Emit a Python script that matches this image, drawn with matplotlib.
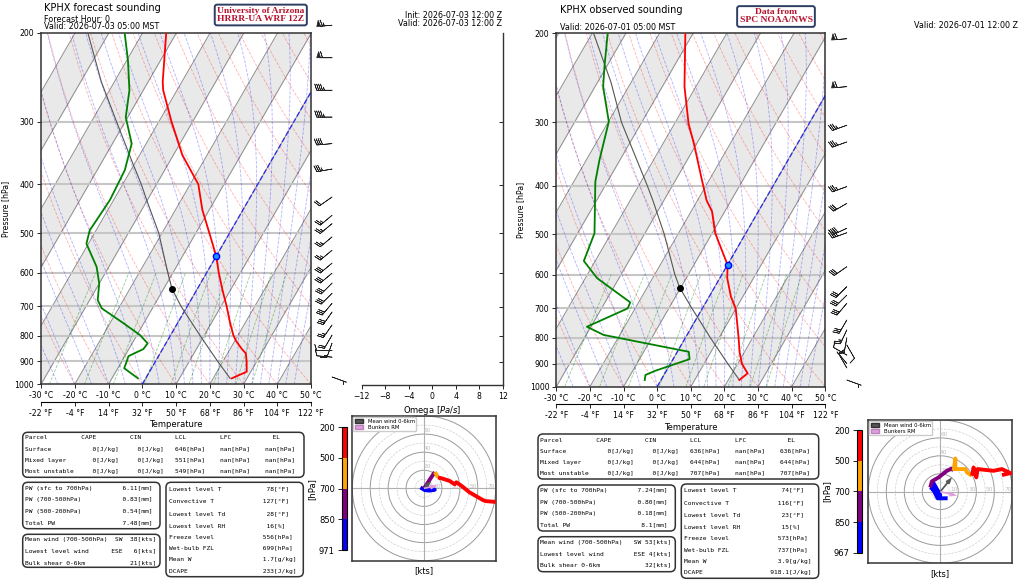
import numpy as np
import matplotlib
matplotlib.use("Agg")
import matplotlib.pyplot as plt
import matplotlib.transforms as mtransforms
from matplotlib.patches import FancyBboxPatch, Circle, Patch
from matplotlib.colors import ListedColormap, BoundaryNorm
from matplotlib.cm import ScalarMappable
from matplotlib.ticker import FuncFormatter, NullLocator

# ------------------------------------------------------------------ data
# forecast sounding (left)
fc_p = [973, 944, 900, 868, 850, 820, 800, 756, 700, 650, 600, 556, 500, 450, 400, 350, 300, 260, 250, 200]
fc_t = [25.5, 28.8, 27.0, 25.4, 23.4, 20.4, 18.7, 15.6, 11.7, 7.7, 3.6, 0.0, -6.0, -12.0, -17.6, -27.3, -36.3, -44.1, -45.7, -53.0]
fc_td_p = [973, 929, 902, 879, 851, 829, 798, 756, 706, 680, 630, 584, 525, 494, 430, 375, 332, 294, 260, 227, 200]
fc_td = [-2.3, -8.1, -8.5, -8.9, -5.7, -5.4, -9.1, -16.0, -25.0, -27.6, -30.0, -33.6, -40.6, -41.9, -41.1, -41.8, -44.3, -50.6, -54.1, -59.6, -65.3]
fc_parcel_p = [973, 900, 800, 700, 647, 600, 500, 430, 400, 364, 300, 250, 200]
fc_parcel_t = [25.0, 18.4, 8.8, -1.8, -7.4, -11.5, -21.0, -30.2, -34.5, -40.5, -52.6, -63.9, -76.2]
fc_lcl_p, fc_lcl_t = 647, -7.4
fc_frz_p, fc_frz_t = 556, 0.0
fc_barb_p = [193, 224, 260, 294, 332, 373, 424, 461, 479, 509, 541, 574, 601, 629, 659, 690, 718, 762, 798, 828, 857, 883, 967]
fc_barb_dir = [265, 270, 270, 270, 265, 260, 235, 230, 230, 230, 230, 230, 230, 225, 225, 220, 215, 215, 210, 200, 270, 275, 110]
fc_barb_spd = [65, 60, 45, 45, 40, 35, 20, 25, 25, 25, 25, 30, 30, 30, 30, 30, 30, 25, 20, 15, 10, 10, 6]

# observed sounding (right)
ob_p = [970, 941, 900, 853, 800, 761, 700, 664, 610, 574, 497, 450, 428, 390, 330, 302, 255, 200]
ob_t = [23.3, 24.6, 21.2, 18.5, 15.8, 13.6, 9.9, 6.5, 2.2, 0.0, -9.1, -13.8, -17.3, -22.2, -30.9, -35.8, -43.4, -52.3]
ob_td_p = [970, 948, 930, 882, 853, 790, 761, 700, 681, 610, 564, 497, 393, 356, 299, 255, 233, 200]
ob_td = [-4.85, -5.5, -3.3, 4.9, 3.4, -24.8, -31.2, -22.2, -22.5, -36.5, -43.4, -45.0, -53.6, -56.1, -59.9, -67.6, -70.6, -75.4]
ob_parcel_p = [970, 900, 800, 700, 637, 600, 500, 430, 400, 300, 250, 200]
ob_parcel_t = [23.3, 17.0, 7.4, -3.1, -10.3, -14.0, -24.0, -33.0, -37.5, -56.0, -66.0, -79.6]
ob_lcl_p, ob_lcl_t = 637, -10.3
ob_frz_p, ob_frz_t = 574, 0.0
ob_barb_p = [205, 255, 304, 328, 402, 434, 486, 496, 579, 634, 659, 684, 738, 772, 800, 827, 866, 900, 918, 970]
ob_barb_dir = [265, 265, 250, 250, 250, 240, 245, 250, 235, 225, 225, 220, 210, 205, 190, 150, 300, 320, 330, 110]
ob_barb_spd = [60, 60, 35, 35, 35, 30, 40, 40, 30, 30, 30, 30, 30, 25, 15, 10, 10, 5, 8, 4]

# hodographs (kts)
fc_hodo_blue_u = [-4, 1, 6, 12, 8, 0]
fc_hodo_blue_v = [1, -2, -2.5, -1.5, -0.5, 0]
fc_hodo_purple_u = [0, 6, 12]
fc_hodo_purple_v = [0, 9, 18]
fc_hodo_orange_u = [12, 14, 15.6]
fc_hodo_orange_v = [18, 15, 12]
fc_hodo_red_u = [15.6, 19.3, 28.6, 34.2, 36.1, 41.6, 50.9, 65.8, 68.8, 80]
fc_hodo_red_v = [12, 11.2, 8.2, 4.5, 6.7, 3.0, -4.5, -13.0, -14.1, -15]
fc_mean_wind = (8.2, 8.2)
fc_bunkers = (15, 3)
fc_hodo_levels = [971, 850, 700, 500, 200]

ob_hodo_blue_u = [8.1, -3, -10, -7.4, 0, -11.1]
ob_hodo_blue_v = [-7.4, -7.4, 6.7, 9.3, -3.7, 4.8]
ob_hodo_purple_u = [-11.1, -9.3, -1.9, 7.4, 13, 14.8]
ob_hodo_purple_v = [4.8, 11.5, 15.9, 23.3, 25.9, 23.3]
ob_hodo_orange_u = [14.8, 16.7, 16.7, 27.8, 29.6, 35.2]
ob_hodo_orange_v = [23.3, 37, 25.2, 25.2, 21.5, 17.8]
ob_hodo_red_u = [35.2, 37, 40, 41.5, 59.3, 68.5, 77.8, 68.5]
ob_hodo_red_v = [17.8, 27, 15.9, 25.2, 23.3, 25.2, 20.7, 18.5]
ob_mean_wind = (13, 16)
ob_bunkers = (18.5, -4.4)
ob_hodo_levels = [967, 850, 700, 500, 200]

# tables
parcel_names = ['Surface', 'Mixed layer', 'Most unstable']
fc_cape = [0, 0, 0]
fc_cin = [0, 0, 0]
fc_lcl = [646, 551, 549]
fc_lfc = ['nan', 'nan', 'nan']
fc_el = ['nan', 'nan', 'nan']
ob_cape = [0, 0, 0]
ob_cin = [0, 0, 0]
ob_lcl = [636, 644, 707]
ob_lfc = ['nan', 'nan', 'nan']
ob_el = [636, 644, 707]

pw_labels = ['PW (sfc to 700hPa)', 'PW (700-500hPa)', 'PW (500-200hPa)', 'Total PW']
fc_pw = ['6.11', '0.83', '0.54', '7.48']
ob_pw = ['7.24', '0.80', '0.18', '8.1']

wind_labels = ['Mean wind (700-500hPa)', 'Lowest level wind', 'Bulk shear 0-6km']
fc_wind_dir = ['SW', 'ESE', '']
fc_wind_spd = [38, 6, 21]
ob_wind_dir = ['SW', 'ESE', '']
ob_wind_spd = [53, 4, 32]

stat_labels = ['Lowest level T', 'Convective T', 'Lowest level Td', 'Lowest level RH',
               'Freeze level', 'Wet-bulb FZL', 'Mean W', 'DCAPE']
stat_units = ['°F', '°F', '°F', '%', 'hPa', 'hPa', 'g/kg', 'J/kg']
fc_stats = ['78', '127', '28', '16', '556', '699', '1.7', '233']
ob_stats = ['74', '116', '23', '15', '573', '737', '3.9', '918.1']

# ------------------------------------------------------------------ setup
W, H = 1024, 580
fig = plt.figure(figsize=(W / 100, H / 100), dpi=100)
plt.rcParams['font.family'] = ['DejaVu Sans']

Rd, Cp, Lv, EPS = 287.04, 1005.7, 2.501e6, 0.622
HODO_COLORS = ['#0000ff', '#800080', '#ffa500', '#ff0000']


def box(x0, y0, x1, y1):
    return [x0 / W, 1 - y1 / H, (x1 - x0) / W, (y1 - y0) / H]


def ftext(x, y, s, **kw):
    kw.setdefault('va', 'center')
    return fig.text(x / W, 1 - y / H, s, **kw)


def rbox(x0, y0, x1, y1, ec='#333333', lw=1.1):
    p = FancyBboxPatch((x0 / W, 1 - y1 / H), (x1 - x0) / W, (y1 - y0) / H,
                       boxstyle='round,pad=0,rounding_size=0.005', mutation_aspect=W / H,
                       transform=fig.transFigure, fc='white', ec=ec, lw=lw, zorder=1)
    fig.add_artist(p)


def sat_vp(tc):
    return 6.112 * np.exp(17.67 * tc / (tc + 243.5))


def moist_adiabats(t0c, plev):
    T = np.asarray(t0c, float) + 273.15
    out = [T.copy()]

    def f(Tk, p):
        e = sat_vp(Tk - 273.15)
        rs = EPS * e / (p - e)
        return (Rd * Tk + Lv * rs) / (Cp + Lv * Lv * rs * EPS / (Rd * Tk * Tk)) / p

    for p0, p1 in zip(plev[:-1], plev[1:]):
        dp = p1 - p0
        k1 = f(T, p0)
        k2 = f(T + k1 * dp, p1)
        T = T + 0.5 * (k1 + k2) * dp
        out.append(T.copy())
    return np.array(out) - 273.15


def wind_uv(dirs, spds):
    d = np.radians(np.asarray(dirs, float))
    s = np.asarray(spds, float)
    return -s * np.sin(d), -s * np.cos(d)


def skew_panel(rect, t_p, t, td_p, td, par_p, par_t, lcl, frz, b_p, b_dir, b_spd, barb_x, sec_loc):
    ax = fig.add_axes(box(*rect))
    ax.set_yscale('log')
    ax.set_ylim(1000, 200)
    ax.set_xlim(-30, 50)
    ax.set_autoscale_on(False)
    wpx, hpx = rect[2] - rect[0], rect[3] - rect[1]
    k = np.tan(np.radians(30)) * hpx / wpx
    st = ax.transScale + ax.transLimits + mtransforms.Affine2D().skew(np.arctan(k), 0) + ax.transAxes

    # shaded isotherm bands + isotherms
    for tb in range(-120, 60, 20):
        ax.fill_betweenx([1000, 100], [tb, tb], [tb + 10, tb + 10], transform=st,
                         color='#e9e9e9', lw=0, zorder=0)
    for ti in range(-120, 60, 10):
        ax.plot([ti, ti], [1000, 100], transform=st, color='#8c8c8c', lw=0.7, zorder=1)
    for pg in range(300, 1000, 100):
        ax.axhline(pg, color='#c6c6c6', lw=1.5, zorder=1)

    plev = np.linspace(1000, 150, 120)
    theta = np.arange(-40, 210, 10) + 273.15
    dry = theta[None, :] * (plev[:, None] / 1000.0) ** 0.2857 - 273.15
    ax.plot(dry, plev, transform=st, color='r', ls='--', lw=0.6, alpha=0.3, zorder=2)
    t0 = np.concatenate((np.arange(-50., 10.1, 5.), np.arange(12.5, 45.1, 2.5)))
    moist = moist_adiabats(t0, plev)
    ax.plot(moist, plev, transform=st, color='b', ls='--', lw=0.6, alpha=0.3, zorder=2)
    wmix = np.array([0.0004, 0.001, 0.002, 0.004, 0.007, 0.01, 0.016, 0.024, 0.032])
    pm = np.linspace(1000, 600, 20)
    e = wmix[None, :] * pm[:, None] / (EPS + wmix[None, :])
    le = np.log(e / 6.112)
    tdm = 243.5 * le / (17.67 - le)
    ax.plot(tdm, pm, transform=st, color='g', ls='--', lw=0.6, alpha=0.4, zorder=2)
    ax.plot([0, 0], [1000, 100], transform=st, color='b', ls='--', lw=1.0, alpha=0.7, zorder=3)

    # data
    ax.plot(par_t, par_p, transform=st, color='#555555', lw=0.8, zorder=4)
    ax.plot(t, t_p, transform=st, color='#ff0000', lw=1.3, zorder=5)
    ax.plot(td, td_p, transform=st, color='#008000', lw=1.3, zorder=5)
    ax.plot([lcl[1]], [lcl[0]], 'o', transform=st, color='k', ms=4, zorder=6)
    ax.plot([frz[1]], [frz[0]], 'o', transform=st, mfc='#1e90ff', mec='#0000ff', mew=1, ms=4.5, zorder=6)

    # barbs
    u, v = wind_uv(b_dir, b_spd)
    btr = mtransforms.blended_transform_factory(ax.transAxes, ax.transData)
    ax.barbs(np.full(len(b_p), barb_x), b_p, u, v, transform=btr, length=4.7,
             lw=0.5, color='#222222', clip_on=False, zorder=7)

    ax.set_yticks([200, 300, 400, 500, 600, 700, 800, 900, 1000])
    ax.yaxis.set_major_formatter(FuncFormatter(lambda val, _: f"{val:.0f}"))
    ax.yaxis.set_minor_locator(NullLocator())
    ax.set_xticks(range(-30, 51, 10))
    ax.xaxis.set_major_formatter(FuncFormatter(lambda val, _: f"{val:.0f} °C"))
    ax.tick_params(labelsize=5.6, length=3, width=0.6, pad=2)
    ax.set_ylabel('Pressure [hPa]', fontsize=5.6, labelpad=3)
    for s in ax.spines.values():
        s.set_linewidth(1.1)
        s.set_color('#333333')

    sec = ax.secondary_xaxis(sec_loc, functions=(lambda c: c * 1.8 + 32, lambda f: (f - 32) / 1.8))
    sec.set_xticks(np.arange(-22, 123, 18))
    sec.xaxis.set_major_formatter(FuncFormatter(lambda val, _: f"{val:.0f} °F"))
    sec.tick_params(labelsize=5.6, length=3, width=0.6, pad=2)
    sec.set_xlabel('Temperature', fontsize=6, labelpad=2)
    return ax


def hodo_panel(rect, crect, layers, mean_uv, bunk_uv, levels):
    hx = fig.add_axes(box(*rect))
    hx.set_xlim(-80, 80)
    hx.set_ylim(-80, 80)
    hx.set_xticks([])
    hx.set_yticks([])
    for r in (10, 30, 50, 70):
        hx.add_patch(Circle((0, 0), r, fill=False, ls='--', lw=0.5, ec='#d0d0d0', zorder=1))
    for r in (20, 40, 60, 80):
        hx.add_patch(Circle((0, 0), r, fill=False, lw=0.7, ec='#9a9a9a', zorder=1))
    hx.axhline(0, color='#b0b0b0', lw=0.8, zorder=1)
    hx.axvline(0, color='#b0b0b0', lw=0.8, zorder=1)
    for r in (20, 40, 60):
        hx.text(4, r + 4, str(r), fontsize=4.2, color='#c0c0c0', ha='center', va='center', zorder=1)
    for r in (10, 30, 50, 70):
        hx.text(r + 5, 2.5, str(r), fontsize=4.2, color='#c0c0c0', ha='center', va='center', zorder=1)
    for (uu, vv), c in zip(layers, HODO_COLORS):
        hx.plot(uu, vv, color=c, lw=2.8, zorder=4, solid_capstyle='butt')
    hx.quiver([0], [0], [mean_uv[0]], [mean_uv[1]], angles='xy', scale_units='xy', scale=1,
              color='#555555', width=0.012, headwidth=3, headlength=4, zorder=5)
    hx.quiver([0], [0], [bunk_uv[0]], [bunk_uv[1]], angles='xy', scale_units='xy', scale=1,
              color='#dda0dd', width=0.012, headwidth=3, headlength=4, zorder=5)
    hx.legend(handles=[Patch(fc='#555555', ec='#333333', label='Mean wind 0-6km'),
                       Patch(fc='#dda0dd', ec='#c080c0', label='Bunkers RM')],
              loc='upper left', fontsize=3.8, handlelength=1.6, handleheight=0.7,
              borderpad=0.3, labelspacing=0.2, borderaxespad=0.2, framealpha=1)
    hx.set_xlabel('[kts]', fontsize=6, labelpad=4)
    for s in hx.spines.values():
        s.set_linewidth(1.1)
        s.set_color('#333333')

    cax = fig.add_axes(box(*crect))
    cmap = ListedColormap(HODO_COLORS)
    norm = BoundaryNorm([0, 1, 2, 3, 4], 4)
    cb = fig.colorbar(ScalarMappable(norm=norm, cmap=cmap), cax=cax, ticks=[0, 1, 2, 3, 4])
    cb.ax.set_yticklabels([str(l) for l in levels])
    cb.ax.yaxis.set_ticks_position('left')
    cb.ax.yaxis.set_label_position('left')
    cb.ax.tick_params(labelsize=6, length=3, width=0.6, pad=2)
    cb.set_label('[hPa]', fontsize=6, labelpad=2)
    cb.outline.set_linewidth(0.8)


def tables(x0, parcel_box, pw_box, wind_box, stat_box, rows_parcel, rows_pw, rows_wind, rows_stat,
           cape, cin, lcl, lfc, el, pw, wdir, wspd, stats, wind_fmt):
    kw = dict(family='DejaVu Sans Mono', fontsize=4.5, ha='left', zorder=3)
    rbox(*parcel_box)
    rbox(*pw_box)
    rbox(*wind_box)
    rbox(*stat_box)
    header = f"{'Parcel':<15}{'CAPE':<13}{'CIN':<12}{'LCL':<12}{'LFC':<14}{'EL'}"
    ftext(x0, rows_parcel[0], header, **kw)
    for i, name in enumerate(parcel_names):
        s = (f"{name:<15}{str(cape[i]) + '[J/kg]':>10}{str(cin[i]) + '[J/kg]':>12}"
             f"{str(lcl[i]) + '[hPa]':>11}{str(lfc[i]) + '[hPa]':>12}{str(el[i]) + '[hPa]':>12}")
        ftext(x0, rows_parcel[i + 1], s, **kw)
    for i, lab in enumerate(pw_labels):
        ftext(x0, rows_pw[i], f"{lab:<26}{pw[i] + '[mm]':>8}", **kw)
    for i, lab in enumerate(wind_labels):
        ftext(x0, rows_wind[i], wind_fmt(lab, wdir[i], wspd[i]), **kw)
    xs = stat_box[0] + 2.7
    for i, lab in enumerate(stat_labels):
        ftext(xs, rows_stat[i], f"{lab:<20}{stats[i]:>8}[{stat_units[i]}]", **kw)


# ------------------------------------------------------------------ left panel
axL = skew_panel((41, 33, 311, 384.3), fc_p, fc_t, fc_td_p, fc_td, fc_parcel_p, fc_parcel_t,
                 (fc_lcl_p, fc_lcl_t), (fc_frz_p, fc_frz_t), fc_barb_p, fc_barb_dir, fc_barb_spd,
                 1.078, -0.0495)

oax = fig.add_axes(box(361.5, 33, 502.7, 385))
oax.set_xlim(-12, 12)
oax.set_yscale('log')
oax.set_ylim(1000, 200)
oax.patch.set_alpha(0)
oax.spines['left'].set_visible(False)
oax.spines['top'].set_visible(False)
oax.yaxis.tick_right()
oax.set_yticks([300, 400, 500, 600, 700, 800, 900])
oax.yaxis.set_minor_locator(NullLocator())
oax.tick_params(axis='y', labelright=False, direction='in', length=3, width=0.6)
oax.set_xticks(range(-12, 13, 4))
oax.tick_params(axis='x', labelsize=5.6, length=3, width=0.6, pad=2)
oax.set_xlabel('Omega [$Pa/s$]', fontsize=6, labelpad=2)
for s in ('bottom', 'right'):
    oax.spines[s].set_linewidth(1.0)
    oax.spines[s].set_color('#333333')

hodo_panel((352.3, 416, 495.7, 560.7), (341.7, 427.3, 347.3, 550),
           [(fc_hodo_blue_u, fc_hodo_blue_v), (fc_hodo_purple_u, fc_hodo_purple_v),
            (fc_hodo_orange_u, fc_hodo_orange_v), (fc_hodo_red_u, fc_hodo_red_v)],
           fc_mean_wind, fc_bunkers, fc_hodo_levels)

tables(25, (22.7, 432.3, 304, 477.3), (22.7, 482.3, 160, 528.7), (22.7, 534.3, 160, 567.3),
       (166, 482.3, 303.3, 576.7),
       [437.3, 449, 460.3, 471.7], [488.7, 500, 511.3, 522.7], [539.7, 551, 562.7],
       [489, 501.3, 514, 525.7, 537, 548.3, 559.7, 571],
       fc_cape, fc_cin, fc_lcl, fc_lfc, fc_el, fc_pw, fc_wind_dir, fc_wind_spd, fc_stats,
       lambda lab, d, s: f"{lab:<23}{d:>3}{str(s) + '[kts]':>9}")

ftext(44.5, 8, 'KPHX forecast sounding', fontsize=7, ha='left')
ftext(44.5, 19, 'Forecast Hour: 0', fontsize=5.8, ha='left')
ftext(44.5, 26.5, 'Valid: 2026-07-03 05:00 MST', fontsize=5.8, ha='left')
ftext(502.5, 15, 'Init: 2026-07-03 12:00 Z', fontsize=5.8, ha='right')
ftext(502.5, 23, 'Valid: 2026-07-03 12:00 Z', fontsize=5.8, ha='right')
ftext(260.8, 15, 'University of Arizona\nHRRR-UA WRF 12Z', fontsize=6.8, ha='center',
      family='Liberation Serif', weight='bold', color='#b5122e', linespacing=1.0,
      bbox=dict(boxstyle='round,pad=0.25', fc='white', ec='#2e3d63', lw=1.4))

# ------------------------------------------------------------------ right panel
axR = skew_panel((556.3, 33.3, 825.3, 386.7), ob_p, ob_t, ob_td_p, ob_td, ob_parcel_p, ob_parcel_t,
                 (ob_lcl_p, ob_lcl_t), (ob_frz_p, ob_frz_t), ob_barb_p, ob_barb_dir, ob_barb_spd,
                 1.08, -0.049)

hodo_panel((868.3, 420, 1012.3, 563.3), (856.7, 430, 862.3, 552.7),
           [(ob_hodo_blue_u, ob_hodo_blue_v), (ob_hodo_purple_u, ob_hodo_purple_v),
            (ob_hodo_orange_u, ob_hodo_orange_v), (ob_hodo_red_u, ob_hodo_red_v)],
           ob_mean_wind, ob_bunkers, ob_hodo_levels)

tables(540, (538, 434, 818.7, 479), (538, 485, 675.3, 531), (538, 536.7, 675.3, 571.7),
       (681.3, 484, 818.7, 578.3),
       [440, 451.3, 462.7, 474], [490.7, 502.3, 513.7, 525.3], [542.7, 554, 565.3],
       [490, 502.7, 515.3, 527, 538.3, 549.7, 561, 572.7],
       ob_cape, ob_cin, ob_lcl, ob_lfc, ob_el, ob_pw, ob_wind_dir, ob_wind_spd, ob_stats,
       lambda lab, d, s: f"{lab:<23}{(d + ' ' + str(s) + '[kts]').strip():>12}")

ftext(560, 10, 'KPHX observed sounding', fontsize=7, ha='left')
ftext(560, 28, 'Valid: 2026-07-01 05:00 MST', fontsize=5.8, ha='left')
ftext(1017.5, 25, 'Valid: 2026-07-01 12:00 Z', fontsize=5.8, ha='right')
ftext(776, 16.5, 'Data from\nSPC NOAA/NWS', fontsize=6.8, ha='center',
      family='Liberation Serif', weight='bold', color='#b5122e', linespacing=1.0,
      bbox=dict(boxstyle='round,pad=0.25', fc='white', ec='#2e3d63', lw=1.4))

fig.savefig('out.png', dpi=100)
